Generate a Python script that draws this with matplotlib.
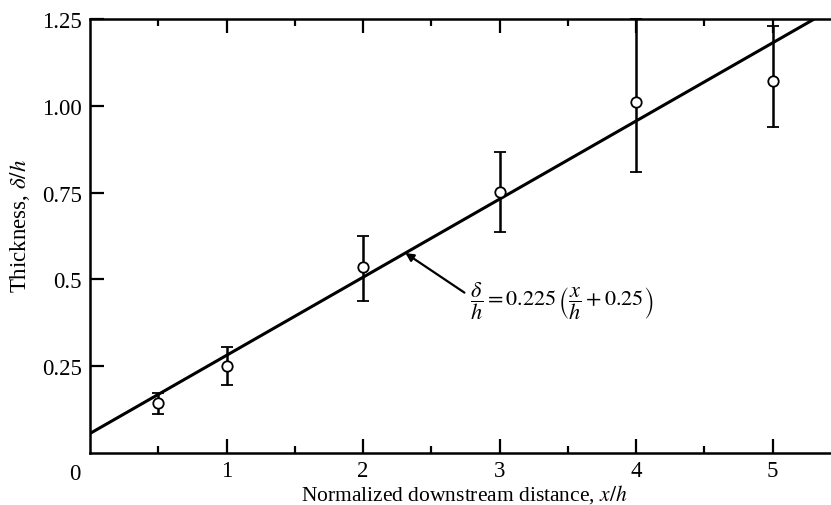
import matplotlib
matplotlib.use("Agg")
import matplotlib.pyplot as plt
import numpy as np
from matplotlib.ticker import FixedLocator

plt.rcParams['font.family'] = ['Liberation Serif', 'DejaVu Serif']
plt.rcParams['mathtext.fontset'] = 'stix'

# data
x_pts = [0.5, 1, 2, 3, 4, 5]
y_pts = [0.143, 0.250, 0.535, 0.751, 1.010, 1.071]
y_err_low = [0.112, 0.197, 0.437, 0.637, 0.809, 0.940]
y_err_high = [0.172, 0.304, 0.626, 0.868, 1.250, 1.230]

fit_coef = 0.225
fit_offset = 0.25
fit_x = [0.0, 5.6]

y_ticks = [0.25, 0.5, 0.75, 1.0, 1.25]
y_ticklabels = ['0.25', '0.5', '0.75', '1.00', '1.25']
x_ticks = [1, 2, 3, 4, 5]
x_minor = [0.5, 1.5, 2.5, 3.5, 4.5]

fig = plt.figure(figsize=(8.31, 5.06), dpi=100)
ax = fig.add_axes([90/831, 52/506, 1 - 90/831 + 0.002, (454-20)/506])

fx = np.array(fit_x)
ax.plot(fx, fit_coef * (fx + fit_offset), color='black', lw=2.2, zorder=2)

yp = np.array(y_pts)
err = [yp - np.array(y_err_low), np.array(y_err_high) - yp]
ax.errorbar(x_pts, y_pts, yerr=err, fmt='o', color='black', mfc='white', mec='black',
            ms=7.5, mew=1.3, elinewidth=1.8, capsize=4.5, capthick=1.8, zorder=3,
            clip_on=False)

ax.set_xlim(0, 5.44)
ax.set_ylim(0, 1.25)

for s in ['left', 'bottom', 'top']:
    ax.spines[s].set_linewidth(1.8)
ax.spines['right'].set_visible(False)

ax.xaxis.set_major_locator(FixedLocator(x_ticks))
ax.xaxis.set_minor_locator(FixedLocator(x_minor))
ax.set_yticks(y_ticks)
ax.set_yticklabels(y_ticklabels)
ax.tick_params(axis='x', which='major', direction='in', length=10, width=1.6,
               top=True, labelsize=16.5, pad=5)
ax.tick_params(axis='x', which='minor', direction='in', length=5, width=1.6, top=True)
ax.tick_params(axis='y', which='major', direction='in', length=10, width=1.6,
               right=False, labelsize=16.5, pad=6)

ax.annotate('0', xy=(0, 0), xycoords='data', xytext=(-11, -7), textcoords='offset points',
            ha='center', va='top', fontsize=16.5, annotation_clip=False)

ax.set_xlabel('Normalized downstream distance, $x/h$', fontsize=15.5)
ax.xaxis.set_label_coords((463 - 90) / 741, -(483 - 454) / 434)
ax.set_ylabel('Thickness, $\\delta/h$', fontsize=16.5)
ax.yaxis.set_label_coords(-(90 - 32) / 741, (454 - 226) / 434)

ax_arrow_x = 2.31
ax.annotate(r'$\dfrac{\delta}{h} = 0.225\,\left(\dfrac{x}{h}+0.25\right)$',
            xy=(ax_arrow_x, fit_coef * (ax_arrow_x + fit_offset)), xycoords='data',
            xytext=(2.78, 0.44), textcoords='data', fontsize=16, va='center', ha='left',
            arrowprops=dict(arrowstyle='-|>', color='black', lw=1.6, shrinkA=2, shrinkB=0,
                            mutation_scale=12, relpos=(0, 0.6)))

fig.savefig('out.png', dpi=100)
